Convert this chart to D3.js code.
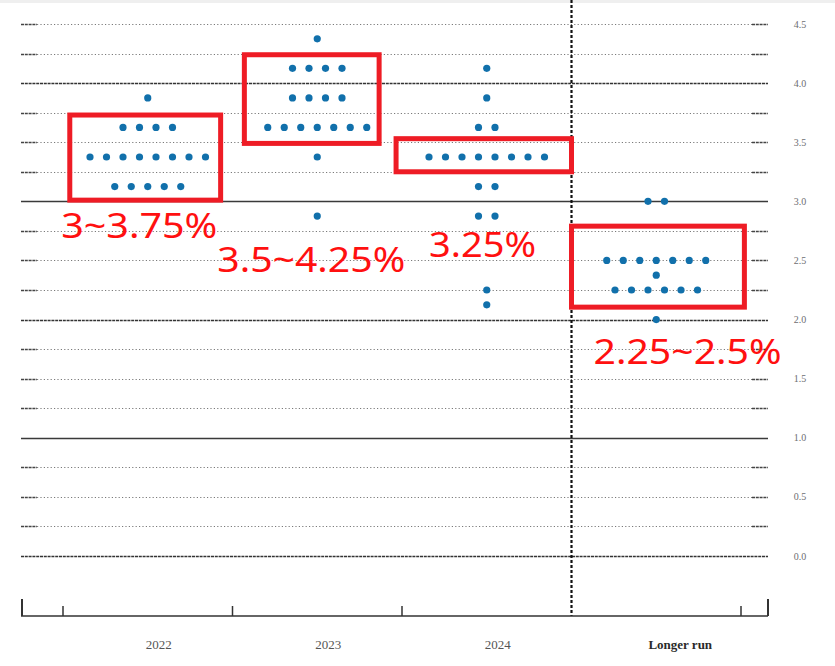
<!DOCTYPE html>
<html>
<head>
<meta charset="utf-8">
<script src="https://cdn.jsdelivr.net/npm/d3@7"></script>
<style>
  html, body { margin: 0; padding: 0; background: #fff; }
  svg { display: block; }
</style>
</head>
<body>
<svg id="chart" width="835" height="666"></svg>
<script>
// ---------- DATA ----------
const categories = ["2022", "2023", "2024", "Longer run"];
// [rate, number of participants]
const dots2022 = [[3.875, 1], [3.625, 4], [3.375, 8], [3.125, 5]];
const dots2023 = [[4.375, 1], [4.125, 4], [3.875, 4], [3.625, 7], [3.375, 1], [2.875, 1]];
const dots2024 = [[4.125, 1], [3.875, 1], [3.625, 2], [3.375, 8], [3.125, 2], [2.875, 2], [2.25, 1], [2.125, 1]];
const dotsLongerRun = [[3.0, 2], [2.5, 7], [2.375, 1], [2.25, 6], [2.0, 1]];
const yTickLabels = ["0.0", "0.5", "1.0", "1.5", "2.0", "2.5", "3.0", "3.5", "4.0", "4.5"];
const gridValues = d3.range(0, 4.5001, 0.25);
// annotation boxes: category, value range, label text
const noteCats = ["2022", "2023", "2024", "Longer run"];
const noteLow = [3.01, 3.49, 3.25, 2.105];
const noteHigh = [3.73, 4.24, 3.53, 2.79];
const noteText = ["3~3.75%", "3.5~4.25%", "3.25%", "2.25~2.5%"];
const noteTextValue = [2.69, 2.40, 2.53, 1.625];

const dotSeries = [dots2022, dots2023, dots2024, dotsLongerRun];

// ---------- LAYOUT ----------
const W = 835, H = 666;
const plotLeft = 21, plotRight = 768;
const axisY = 616;
const svg = d3.select("#chart");

const x = d3.scaleBand().domain(categories).range([63, 741]).paddingInner(0).paddingOuter(0);
const y = d3.scaleLinear().domain([0, 4.5]).range([556, 24]);
const bw = x.bandwidth();
const dotStep = 16.5;

// faint top edge
svg.append("rect").attr("x", 0).attr("y", 0).attr("width", W).attr("height", 3).attr("fill", "#efefef");

// ---------- GRID ----------
const grid = svg.append("g");
gridValues.forEach(v => {
  const yy = Math.round(y(v)) + 0.5;
  const isInt = Math.abs(v - Math.round(v)) < 1e-6;
  if (isInt) {
    const odd = Math.round(v) % 2 === 1;
    grid.append("line").attr("x1", plotLeft).attr("x2", plotRight).attr("y1", yy).attr("y2", yy)
      .attr("stroke", odd ? "#3a3a3a" : "#333").attr("stroke-width", odd ? 1.3 : 1.7)
      .attr("stroke-dasharray", odd ? null : "3,0.8");
  } else {
    grid.append("line").attr("x1", plotLeft + 16).attr("x2", plotRight - 16).attr("y1", yy).attr("y2", yy)
      .attr("stroke", "#7a7a7a").attr("stroke-width", 1)
      .attr("stroke-dasharray", "1.2,2.2");
    [[plotLeft, plotLeft + 16], [plotRight - 16, plotRight]].forEach(([a, b]) => {
      grid.append("line").attr("x1", a).attr("x2", b).attr("y1", yy).attr("y2", yy)
        .attr("stroke", "#444").attr("stroke-width", 1.5).attr("stroke-dasharray", "3,0.8");
    });
  }
});

// y labels on the right
svg.append("g").selectAll("text").data(yTickLabels).join("text")
  .attr("x", 800).attr("y", d => y(+d)).attr("dy", "0.35em")
  .attr("text-anchor", "middle")
  .attr("font-family", "Liberation Serif, serif").attr("font-size", 10)
  .attr("fill", "#6d6d72")
  .text(d => d);

// ---------- VERTICAL DASHED SEPARATOR ----------
const sepX = x("Longer run");
svg.append("line").attr("x1", sepX).attr("x2", sepX).attr("y1", 0).attr("y2", axisY)
  .attr("stroke", "#111").attr("stroke-width", 2.2).attr("stroke-dasharray", "3,2");

// ---------- BOTTOM AXIS ----------
const ax = svg.append("g").attr("stroke", "#333").attr("stroke-linecap", "butt");
ax.append("line").attr("x1", plotLeft).attr("x2", plotRight).attr("y1", axisY).attr("y2", axisY).attr("stroke-width", 1.6);
const bounds = categories.map(c => x(c)).concat([x(categories[categories.length - 1]) + bw]);
bounds.forEach(b => {
  if (Math.abs(b - sepX) < 1) return;
  ax.append("line").attr("x1", b).attr("x2", b).attr("y1", axisY - 10).attr("y2", axisY).attr("stroke-width", 1.5);
});
[plotLeft + 1, plotRight].forEach(b => {
  ax.append("line").attr("x1", b).attr("x2", b).attr("y1", axisY - 17).attr("y2", axisY).attr("stroke-width", 2);
});

// category labels
svg.append("g").selectAll("text").data(categories).join("text")
  .attr("x", d => x(d) + bw / 2 + (d === "Longer run" ? 24 : 11))
  .attr("y", 649)
  .attr("text-anchor", "middle")
  .attr("font-family", "Liberation Serif, serif").attr("font-size", 13)
  .attr("font-weight", d => d === "Longer run" ? "bold" : "normal")
  .attr("fill", d => d === "Longer run" ? "#2a2a2a" : "#555")
  .text(d => d);

// ---------- DOTS ----------
const dotsG = svg.append("g");
categories.forEach((cat, ci) => {
  const cx = x(cat) + bw / 2;
  dotSeries[ci].forEach(([rate, n]) => {
    for (let i = 0; i < n; i++) {
      dotsG.append("circle")
        .attr("cx", cx + (i - (n - 1) / 2) * dotStep)
        .attr("cy", y(rate))
        .attr("r", 3.6)
        .attr("fill", "#1170ab");
    }
  });
});

// ---------- ANNOTATIONS ----------
const boxX0 = [0.04, 0.07, -0.035, 0.0];
const boxX1 = [0.93, 0.865, 1.0, 1.02];
const textX0 = [-0.01, -0.09, 0.16, 0.13];
const textLen = [156, 188, 107, 188];
const red = "#ee1c25";
noteCats.forEach((cat, i) => {
  const x0 = x(cat) + boxX0[i] * bw, x1 = x(cat) + boxX1[i] * bw;
  svg.append("rect")
    .attr("x", x0).attr("y", y(noteHigh[i]))
    .attr("width", x1 - x0).attr("height", y(noteLow[i]) - y(noteHigh[i]))
    .attr("fill", "none").attr("stroke", red).attr("stroke-width", 5);
  svg.append("text")
    .attr("x", x(cat) + textX0[i] * bw).attr("y", y(noteTextValue[i]))
    .attr("font-family", "Noto Sans, Open Sans, sans-serif").attr("font-size", 35)
    .attr("textLength", textLen[i]).attr("lengthAdjust", "spacingAndGlyphs")
    .attr("fill", "#ff1010")
    .text(noteText[i]);
});
</script>
</body>
</html>
